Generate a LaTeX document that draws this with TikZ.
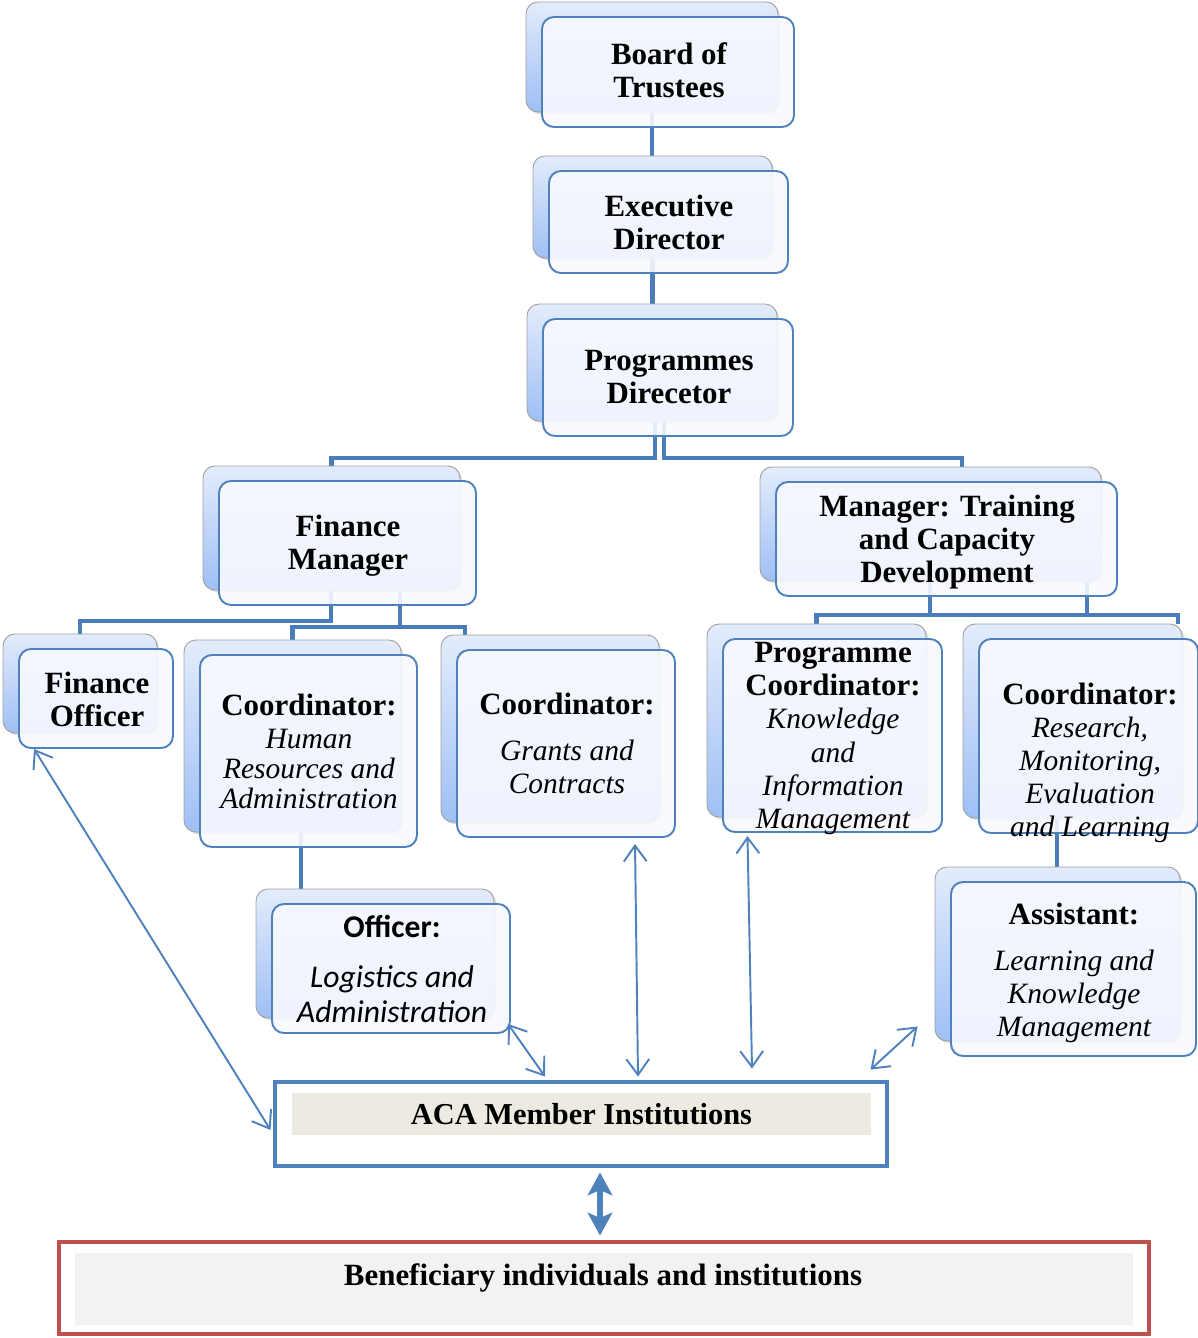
\documentclass[tikz,border=0pt]{standalone}
\usepackage{fontspec}
\setmainfont{Liberation Serif}
\newfontfamily\calibrifont{Carlito}
\usetikzlibrary{arrows.meta,shadows,calc}

\definecolor{linkblue}{HTML}{4A7DBA}
\definecolor{frameblue}{HTML}{4F81BD}
\definecolor{backtop}{HTML}{E3ECFB}
\definecolor{backbot}{HTML}{9FBFF5}
\definecolor{frontfill}{HTML}{F7F9FE}
\definecolor{acafill}{HTML}{EDEBE1}
\definecolor{benfill}{HTML}{F2F2F2}
\definecolor{benred}{HTML}{C0504D}

\pgfdeclarelayer{bg}
\pgfsetlayers{bg,main}

% italic sub-title lines inside a box (font resets at every line break)
\newcommand\subtxt{\mdseries\itshape\fontsize{16.8}{18.8}\selectfont}
\newcommand\subtxtHR{\mdseries\itshape\fontsize{16.8}{17.1}\selectfont}
\newcommand\subtxtCal{\mdseries\itshape}

% two stacked rounded boxes: shaded back card and translucent front card
% #1 name, #2..#5 back card corners (x1,y1,x2,y2)
\newcommand\orgbox[5]{%
  \node[backbox, minimum width={(#4-#2)*0.02cm}, minimum height={(#5-#3)*0.02cm}]
    (#1b) at ({(#2+#4)/2},{(#3+#5)/2}) {};
  \node[frontbox, minimum width={(#4-#2)*0.02cm}, minimum height={(#5-#3)*0.02cm}]
    (#1) at ({(#2+#4)/2+16},{(#3+#5)/2+15}) {};
}

\begin{document}
\begin{tikzpicture}[x=0.02cm,y=-0.02cm,
  backbox/.style={rectangle, rounded corners=0.24cm, draw=gray!75, line width=0.5pt,
    top color=backtop, bottom color=backbot, inner sep=0,
    drop shadow={shadow xshift=1.2pt, shadow yshift=-1.2pt, opacity=0.3}},
  frontbox/.style={rectangle, rounded corners=0.24cm, draw=frameblue, line width=1.1pt,
    fill=frontfill, fill opacity=0.9, inner sep=0},
  lbl/.style={align=center, inner sep=0, font=\fontsize{17.6}{18.8}\selectfont\bfseries},
  link/.style={draw=linkblue, line width=2.8pt},
  dlink/.style={draw=frameblue, line width=1.1pt,
    arrows={Straight Barb[length=9pt,width=13pt]-Straight Barb[length=9pt,width=13pt]}},
  biglink/.style={draw=frameblue, line width=3.4pt,
    arrows={Stealth[length=13pt,width=14pt,inset=3pt]-Stealth[length=13pt,width=14pt,inset=3pt]}}
]
\useasboundingbox (0,0) rectangle (1197,1338);

% ---------- cards ----------
\orgbox{board}{526}{2}{778}{112}
\orgbox{exec}{533}{156}{772}{258}
\orgbox{pd}{527}{304}{777}{421}
\orgbox{fm}{203}{466}{460}{590}
\orgbox{mgr}{760}{467}{1101}{581}
\orgbox{fo}{3}{634}{157}{733}
\orgbox{hr}{184}{640}{401}{832}
\orgbox{gc}{441}{635}{659}{822}
\orgbox{pc}{707}{624}{926}{817}
\orgbox{rm}{963}{624}{1182}{818}
\orgbox{ol}{256}{889}{494}{1018}
\orgbox{as}{935}{867}{1180}{1041}

% ---------- card texts ----------
\node[lbl] (boardt) at (669,70.5) {Board of\\Trustees};
\node[lbl] (exect) at (669,222.5) {Executive\\Director};
\node[lbl] (pdt) at (669,377.5) {Programmes\\Direcetor};
\node[lbl] (fmt) at (348,546) {Finance\\Manager};
\node[lbl] (mgrt) at (947,542.5) {Manager: Training\\and Capacity\\Development};
\node[lbl] (fot) at (97,699.5) {Finance\\Officer};
\node[lbl, font=\fontsize{17.6}{17.1}\selectfont\bfseries] (hrt) at (309,751.5)
  {Coordinator:\\[1.7pt]\subtxtHR Human\\\subtxtHR Resources and\\\subtxtHR Administration};
\node[lbl] (gct) at (567,743.5) {Coordinator:\\[7.4pt]\subtxt Grants and\\\subtxt Contracts};
\node[lbl] (pct) at (833,738.5)
  {Programme\\Coordinator:\\\subtxt Knowledge\\\subtxt and\\\subtxt Information\\\subtxt Management};
\node[lbl] (rmt) at (1090,763)
  {Coordinator:\\\subtxt Research,\\\subtxt Monitoring,\\\subtxt Evaluation\\\subtxt and Learning};
\node[lbl, font=\calibrifont\fontsize{18}{20}\selectfont\bfseries] (olt) at (392,969)
  {Officer:\\[8pt]\subtxtCal Logistics and\\\subtxtCal Administration};
\node[lbl] (ast) at (1074,973)
  {Assistant:\\[7.4pt]\subtxt Learning and\\\subtxt Knowledge\\\subtxt Management};

% ---------- member and beneficiary frames ----------
\node[draw=frameblue, line width=2.8pt, inner sep=0,
      minimum width=612*0.02cm, minimum height=84*0.02cm] (aca) at (581,1124) {};
\node[fill=acafill, inner sep=0, minimum width=579*0.02cm, minimum height=42*0.02cm,
      font=\fontsize{17.3}{18.8}\selectfont\bfseries] (acat) at (581.5,1114) {ACA Member Institutions};
\node[draw=benred, line width=2.8pt, inner sep=0,
      minimum width=1090*0.02cm, minimum height=92*0.02cm] (ben) at (604,1288) {};
\node[fill=benfill, inner sep=0, minimum width=1058*0.02cm, minimum height=72*0.02cm] (benf) at (604,1289) {};
\node[lbl] (bent) at (603,1277.5) {Beneficiary individuals and institutions};

% ---------- hierarchy lines (behind the cards) ----------
\coordinate (j1) at (655,458);
\coordinate (j2) at (664,458);
\coordinate (m1) at (962,467);
\coordinate (f1) at (331,621);
\coordinate (f2) at (400,627);
\coordinate (g1) at (465,635);
\coordinate (m2) at (930,615);
\coordinate (m3) at (1087,615);
\coordinate (r1) at (1178,624);
\coordinate (h1) at (301,840);
\coordinate (r2) at (1057,840);
\begin{pgfonlayer}{bg}
  \draw[link] (boardb.south) -- (boardb.south |- execb.north);
  \draw[link] (execb.south) -- (execb.south |- pdb.north);
  \draw[link] (pdb.south -| j1) -- (j1) -| (fmb.north);
  \draw[link] (pdb.south -| j2) -- (j2) -| (mgrb.north -| m1);
  \draw[link] (fmb.south -| f1) -- (f1) -| (fob.north);
  \draw[link] (fmb.south -| f2) -- (f2) -| (hrb.north);
  \draw[link] (f2) -| (gcb.north -| g1);
  \draw[link] (mgrb.south -| m2) -- (m2) -| (pcb.north);
  \draw[link] (m2) -| (rmb.north -| r1);
  \draw[link] (mgrb.south -| m3) -- (m3);
  \draw[link] (hrb.south -| h1) -- (olb.north -| h1);
  \draw[link] (rmb.south -| r2) -- (asb.north -| r2);
\end{pgfonlayer}

% ---------- two-way links to member institutions ----------
\draw[dlink] ($(fo.south west)+(16,0)$) -- ($(aca.west)+(-2,6)$);
\draw[dlink] ($(ol.south east)+(-3,-10)$) -- ($(aca.north)+(-36,-3)$);
\draw[dlink] ($(gc.south)+(69,6)$) -- ($(aca.north)+(57,-3)$);
\draw[dlink] ($(pc.south)+(-85,3)$) -- ($(aca.north)+(171,-11)$);
\draw[dlink] ($(asb.south west)+(-17,-15)$) -- ($(aca.north east)+(-19,-10)$);
\draw[biglink] ($(aca.south)+(19,4)$) -- ($(ben.north)+(-4,-4)$);
\end{tikzpicture}
\end{document}
